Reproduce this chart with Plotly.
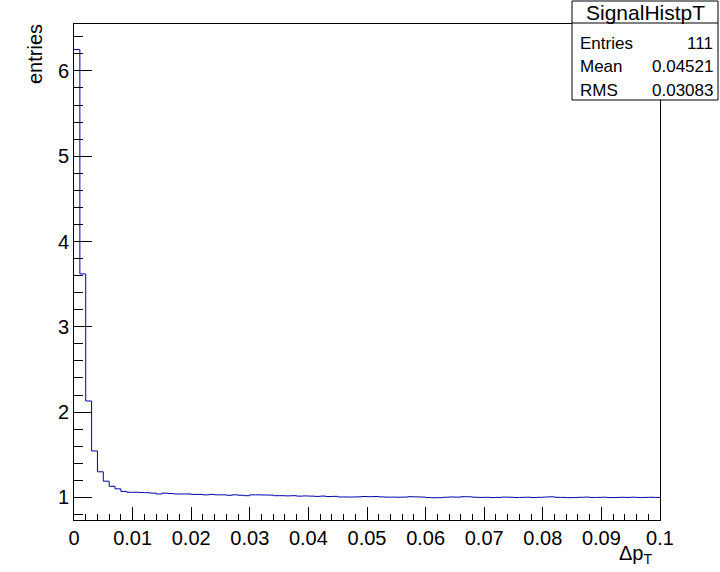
import plotly.graph_objects as go

# ---- data ----
bin_low = 0.0
bin_high = 0.1
n_bins = 100
counts = [
    6.25, 3.62, 2.13, 1.545, 1.30, 1.19, 1.13, 1.10, 1.07, 1.06,
    1.06, 1.058, 1.055, 1.05, 1.04, 1.05, 1.045, 1.04, 1.04, 1.04,
    1.035, 1.035, 1.03, 1.035, 1.03, 1.03, 1.025, 1.03, 1.025, 1.02,
    1.03, 1.03, 1.028, 1.027, 1.02, 1.02, 1.018, 1.02, 1.015, 1.017,
    1.015, 1.012, 1.015, 1.01, 1.012, 1.005, 1.005, 1.004, 1.006, 1.01,
    1.008, 1.01, 1.006, 1.003, 1.003, 1.002, 1.004, 1.008, 1.006, 1.004,
    0.998, 0.996, 0.997, 1.002, 1.005, 1.003, 1.008, 1.007, 1.002, 1.0,
    1.001, 0.998, 1.0, 1.003, 1.002, 0.999, 1.0, 1.002, 0.998, 1.001,
    1.004, 1.007, 1.001, 1.0, 0.997, 0.998, 1.001, 1.003, 0.999, 1.0,
    1.002, 0.998, 0.999, 1.001, 1.0, 1.002, 0.999, 1.0, 1.001, 1.0,
]
stats_title = "SignalHistpT"
stats_labels = ["Entries", "Mean", "RMS"]
stats_values = ["111", "0.04521", "0.03083"]
x_title = "Δp<sub>T</sub>"
y_title = "entries"

width_bin = (bin_high - bin_low) / n_bins
edges = [bin_low + i * width_bin for i in range(n_bins + 1)]
ys = counts + [counts[-1]]

FONT = "Liberation Sans, Arial, Helvetica, sans-serif"
W, H = 720, 572
L, R, T, B = 74, 60, 24, 52
pw, ph = W - L - R, H - T - B

def px2x(px):
    return (px - L) / pw

def py2y(py):
    return (H - B - py) / ph

fig = go.Figure()
fig.add_trace(go.Scatter(
    x=edges, y=ys, mode="lines", line=dict(shape="hv", color="#0000a8", width=1),
    hoverinfo="skip", showlegend=False,
))

fig.update_layout(
    width=W, height=H,
    margin=dict(l=L, r=R, t=T, b=B, pad=0),
    paper_bgcolor="white", plot_bgcolor="white",
    font=dict(family=FONT, size=20, color="black"),
    showlegend=False,
    xaxis=dict(
        range=[bin_low, bin_high], showgrid=False, zeroline=False,
        showline=True, linecolor="black", linewidth=1, mirror=True,
        ticks="inside", ticklen=13, tickwidth=1, tickcolor="black",
        tick0=0, dtick=0.01, tickformat="~g",
        minor=dict(ticks="inside", ticklen=6, dtick=0.002, tick0=0, tickcolor="black", showgrid=False),
        tickfont=dict(size=20, family=FONT),
    ),
    yaxis=dict(
        range=[0.735, 6.55], showgrid=False, zeroline=False,
        showline=True, linecolor="black", linewidth=1, mirror=True,
        ticks="inside", ticklen=18, tickwidth=1, tickcolor="black",
        tick0=0, dtick=1,
        minor=dict(ticks="inside", ticklen=9, dtick=0.2, tick0=0, tickcolor="black", showgrid=False),
        tickfont=dict(size=20, family=FONT),
    ),
)

# axis titles (ROOT style, right/top aligned)
fig.add_annotation(xref="paper", yref="paper", x=px2x(654), y=py2y(540),
                   text=x_title, showarrow=False, xanchor="right", yanchor="top",
                   font=dict(size=20, family=FONT))
fig.add_annotation(xref="paper", yref="paper", x=px2x(22), y=py2y(22),
                   text=y_title, showarrow=False, textangle=-90,
                   xanchor="left", yanchor="top", font=dict(size=20, family=FONT))

# stats box
bx0, bx1, by0, by1, bsep = 572, 718, 1, 100, 23
fig.add_shape(type="rect", xref="paper", yref="paper",
              x0=px2x(bx0), x1=px2x(bx1), y0=py2y(by1), y1=py2y(by0),
              line=dict(color="black", width=1), fillcolor="white", layer="above")
fig.add_shape(type="line", xref="paper", yref="paper",
              x0=px2x(bx0), x1=px2x(bx1), y0=py2y(bsep), y1=py2y(bsep),
              line=dict(color="black", width=1), layer="above")
fig.add_annotation(xref="paper", yref="paper", x=px2x((bx0 + bx1) / 2), y=py2y(12),
                   text=stats_title, showarrow=False, xanchor="center", yanchor="middle",
                   font=dict(size=21, family=FONT))
row_centers = [43, 67, 90]
for lab, val, yc in zip(stats_labels, stats_values, row_centers):
    fig.add_annotation(xref="paper", yref="paper", x=px2x(bx0 + 6), y=py2y(yc),
                       text=lab, showarrow=False, xanchor="left", yanchor="middle",
                       font=dict(size=17, family=FONT))
    fig.add_annotation(xref="paper", yref="paper", x=px2x(bx1 - 3), y=py2y(yc),
                       text=val, showarrow=False, xanchor="right", yanchor="middle",
                       font=dict(size=17, family=FONT))

fig.write_html("out.html")
